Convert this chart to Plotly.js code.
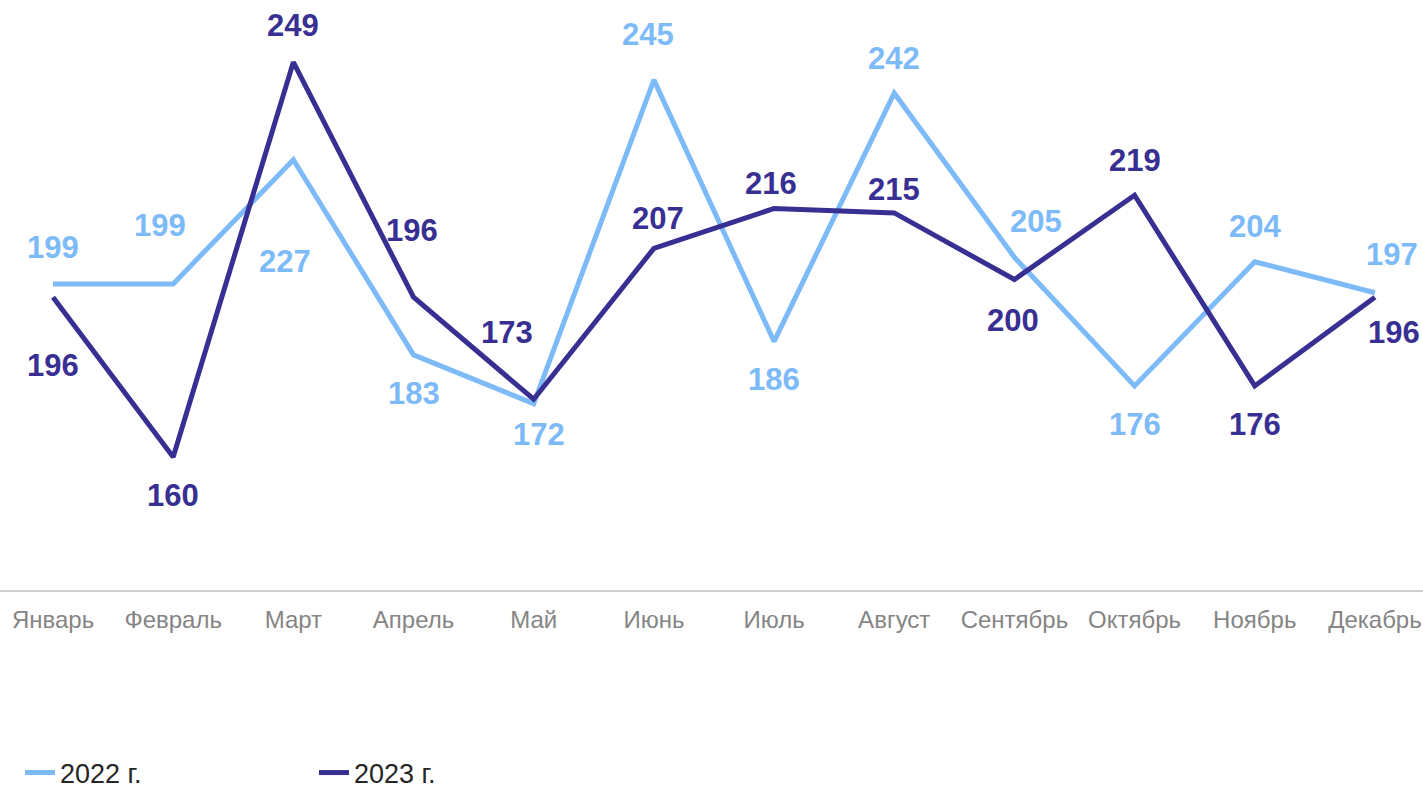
<!DOCTYPE html>
<html>
<head>
<meta charset="utf-8">
<script src="https://cdn.plot.ly/plotly-3.0.1.min.js"></script>
<style>
html,body{margin:0;padding:0;background:#fff;}
#chart{width:1423px;height:788px;}
</style>
</head>
<body>
<div id="chart"></div>
<script>
const months = ["Январь","Февраль","Март","Апрель","Май","Июнь","Июль","Август","Сентябрь","Октябрь","Ноябрь","Декабрь"];
const series2022 = [199,199,227,183,172,245,186,242,205,176,204,197];
const series2023 = [196,160,249,196,173,207,216,215,200,219,176,196];
const name2022 = "2022 г.";
const name2023 = "2023 г.";

// label placement offsets (px) relative to each point: [dx, dy] with dy positive = down
const offsets2022 = [[0,-36],[-13,-58],[-8,102],[0,39],[5,31],[-6,-45],[0,38],[0,-35],[22,-36],[0,39],[0,-35],[17,-38]];
const offsets2023 = [[0,68],[0,39],[0,-37],[-2,-67],[-27,-67],[4,-30],[-3,-25],[0,-23],[-1,41],[0,-35],[0,39],[19,35]];

const c2022 = "#7dbaf8";
const c2023 = "#373092";
const idx = months.map((m,i)=>i);

const traces = [
  {x: idx, y: series2022, name: name2022, type: "scatter", mode: "lines",
   line: {color: c2022, width: 5}, hoverinfo: "skip"},
  {x: idx, y: series2023, name: name2023, type: "scatter", mode: "lines",
   line: {color: c2023, width: 5}, hoverinfo: "skip"}
];

function labels(vals, offs, color){
  return vals.map((v,i)=>({
    x: i, y: v, xref: "x", yref: "y", text: String(v), showarrow: false,
    xshift: offs[i][0], yshift: -offs[i][1],
    font: {family: "Liberation Sans, Arial, sans-serif", size: 31, color: color, weight: "bold"}
  }));
}
const annotations = labels(series2022, offsets2022, c2022).concat(labels(series2023, offsets2023, c2023));

const layout = {
  width: 1423, height: 788,
  margin: {l: 0, r: 0, t: 0, b: 198, pad: 0, autoexpand: false},
  paper_bgcolor: "#fff", plot_bgcolor: "#fff",
  showlegend: true,
  legend: {orientation: "h", x: 20/1423, xanchor: "left", xref: "container",
           y: 1 - 773/788, yanchor: "middle", yref: "container",
           entrywidth: 249, entrywidthmode: "pixels",
           font: {family: "Liberation Sans, Arial, sans-serif", size: 27, color: "#262626"}},
  xaxis: {
    range: [-0.441, 11.40], tickmode: "array", tickvals: idx, ticktext: months,
    showgrid: false, zeroline: false, showline: true, linecolor: "#d0d0d0", linewidth: 2,
    ticks: "", fixedrange: true, ticklabelstandoff: 7,
    tickfont: {family: "Liberation Sans, Arial, sans-serif", size: 24, color: "#858585"}
  },
  yaxis: {range: [130, 263], visible: false, showgrid: false, zeroline: false, fixedrange: true},
  annotations: annotations
};

Plotly.newPlot("chart", traces, layout, {displayModeBar: false, staticPlot: true});
</script>
</body>
</html>
